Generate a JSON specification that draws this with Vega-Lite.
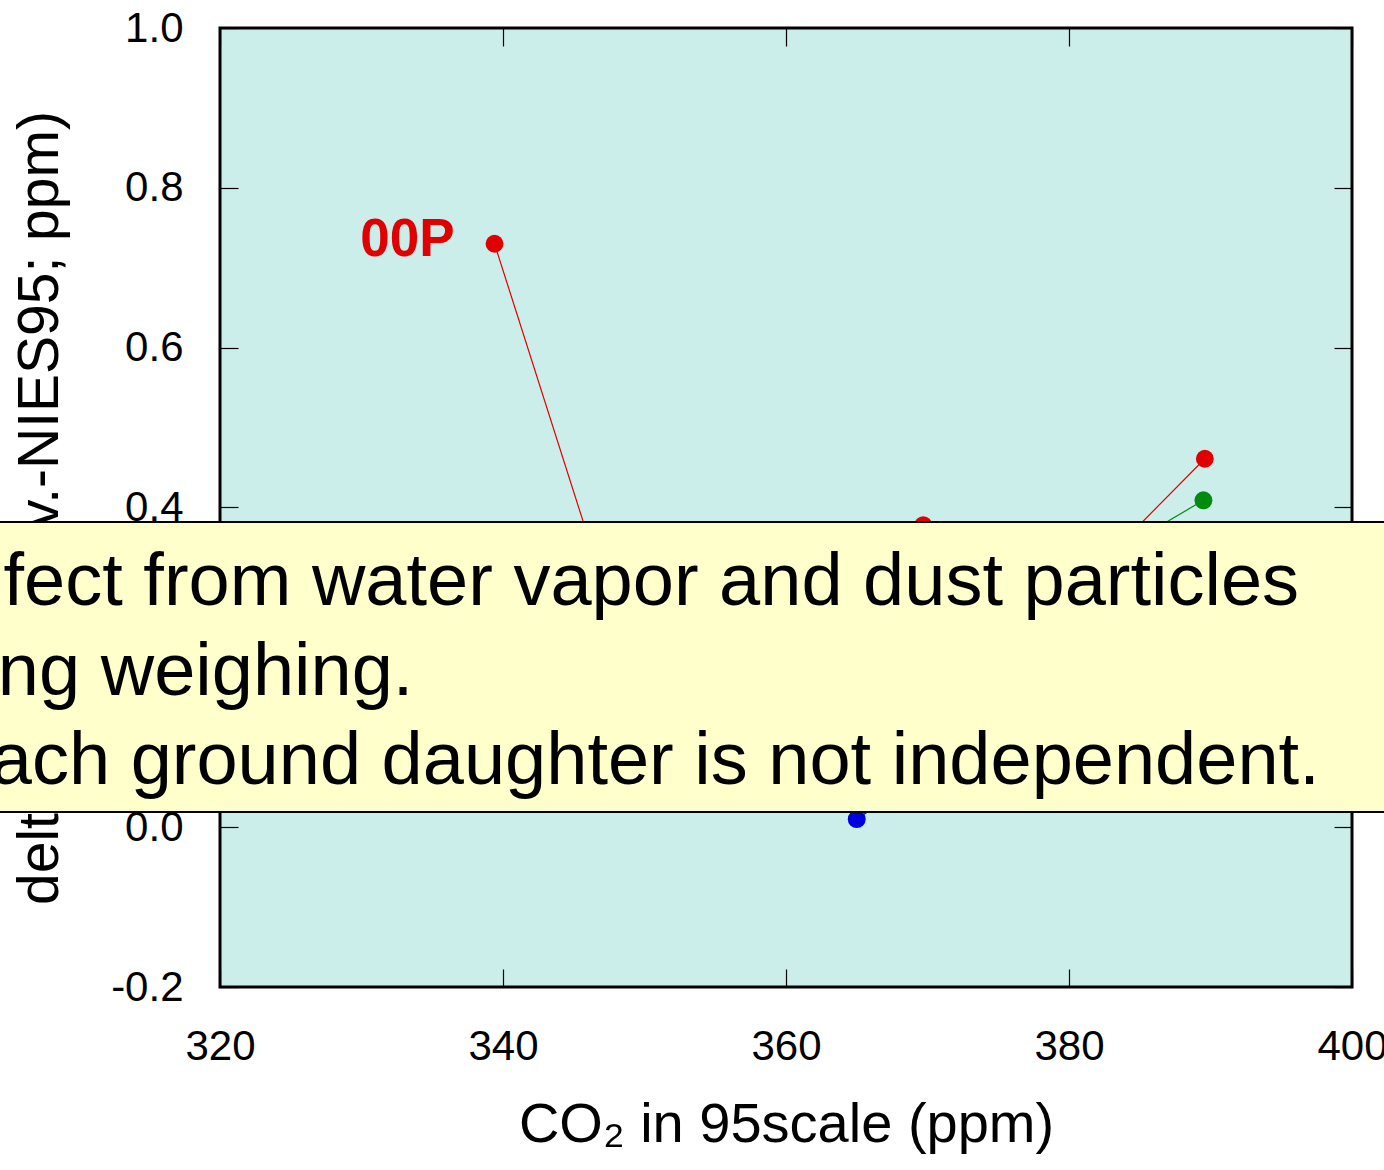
{
  "$schema": "https://vega.github.io/schema/vega-lite/v6.json",
  "width": 1132,
  "height": 959,
  "autosize": {"type": "none"},
  "padding": {"left": 220, "top": 28, "right": 32, "bottom": 183},
  "background": "white",
  "config": {
    "view": {"stroke": "black", "strokeWidth": 3, "fill": "#cceeeb"},
    "font": "Liberation Sans",
    "axis": {"grid": false, "domain": false, "labelFont": "Liberation Sans", "titleFont": "Liberation Sans", "labelColor": "black", "titleColor": "black", "tickColor": "black", "tickWidth": 1.2, "tickSize": -18, "labelFontSize": 42, "titleFontSize": 56, "titleFontWeight": "normal", "labelFlush": false, "labelOverlap": false}
  },
  "datasets": {
    "series": [
      {"set": "red", "co2": 339.4, "delta": 0.730},
      {"set": "red", "co2": 350.0, "delta": 0.142},
      {"set": "red", "co2": 369.7, "delta": 0.378},
      {"set": "red", "co2": 380.0, "delta": 0.289},
      {"set": "red", "co2": 389.6, "delta": 0.461},
      {"set": "green", "co2": 380.0, "delta": 0.310},
      {"set": "green", "co2": 389.5, "delta": 0.409},
      {"set": "blue", "co2": 365.0, "delta": 0.010},
      {"set": "blue", "co2": 380.0, "delta": 0.190}
    ],
    "labels": [
      {"co2": 339.4, "delta": 0.730, "name": "00P"}
    ],
    "note": [
      {"co2": 304.7, "delta": 0.278, "line": "fect from water vapor and dust particles"},
      {"co2": 304.3, "delta": 0.1654, "line": "ng weighing."},
      {"co2": 303.8, "delta": 0.0541, "line": "ach ground daughter is not independent."}
    ],
    "box": [
      {"x1": 300, "x2": 420, "y1": 0.019, "y2": 0.3819}
    ]
  },
  "layer": [
    {
      "data": {"name": "series"},
      "mark": {"type": "line", "strokeWidth": 1.2},
      "encoding": {
        "x": {"field": "co2", "type": "quantitative", "scale": {"domain": [320, 400], "nice": false, "zero": false},
          "axis": {"orient": "bottom", "values": [320, 340, 360, 380, 400], "format": "d", "labelPadding": 57, "title": "CO₂ in 95scale (ppm)", "titlePadding": 30}},
        "y": {"field": "delta", "type": "quantitative", "scale": {"domain": [-0.2, 1.0], "nice": false, "zero": false},
          "axis": {"orient": "left", "values": [-0.2, 0, 0.2, 0.4, 0.6, 0.8, 1.0], "format": ".1f", "labelExpr": "replace(datum.label, '−', '-')", "labelPadding": 55, "title": "delta CO₂ (Grav.-NIES95; ppm)", "titleFontSize": 57, "titlePadding": 41}},
        "color": {"field": "set", "type": "nominal", "scale": {"domain": ["red", "green", "blue"], "range": ["#e00000", "#008a10", "#0000dd"]}, "legend": null}
      }
    },
    {
      "data": {"name": "series"},
      "mark": {"type": "point", "filled": true, "opacity": 1, "size": 320},
      "encoding": {
        "x": {"field": "co2", "type": "quantitative", "axis": {"orient": "top", "values": [320, 340, 360, 380, 400], "labels": false, "title": null}},
        "y": {"field": "delta", "type": "quantitative", "axis": {"orient": "right", "values": [-0.2, 0, 0.2, 0.4, 0.6, 0.8, 1.0], "labels": false, "title": null}},
        "color": {"field": "set", "type": "nominal", "legend": null}
      }
    },
    {
      "data": {"name": "labels"},
      "mark": {"type": "text", "align": "right", "baseline": "middle", "dx": -40, "dy": -4, "fontSize": 53, "fontWeight": "bold", "color": "#e00000", "font": "Liberation Sans"},
      "encoding": {
        "x": {"field": "co2", "type": "quantitative", "axis": null},
        "y": {"field": "delta", "type": "quantitative", "axis": null},
        "text": {"field": "name"}
      }
    },
    {
      "mark": {"type": "rule", "color": "#5f7878", "strokeWidth": 2},
      "encoding": {"y": {"datum": 0.005, "type": "quantitative", "axis": null}}
    },
    {
      "data": {"name": "box"},
      "mark": {"type": "rect", "fill": "#ffffcc", "stroke": "black", "strokeWidth": 2, "clip": false},
      "encoding": {
        "x": {"field": "x1", "type": "quantitative", "axis": null},
        "x2": {"field": "x2"},
        "y": {"field": "y1", "type": "quantitative", "axis": null},
        "y2": {"field": "y2"}
      }
    },
    {
      "data": {"name": "note"},
      "mark": {"type": "text", "align": "left", "baseline": "alphabetic", "fontSize": 74, "color": "black", "font": "Liberation Sans"},
      "encoding": {
        "x": {"field": "co2", "type": "quantitative", "axis": null},
        "y": {"field": "delta", "type": "quantitative", "axis": null},
        "text": {"field": "line"}
      }
    }
  ],
  "resolve": {"axis": {"x": "independent", "y": "independent"}}
}
